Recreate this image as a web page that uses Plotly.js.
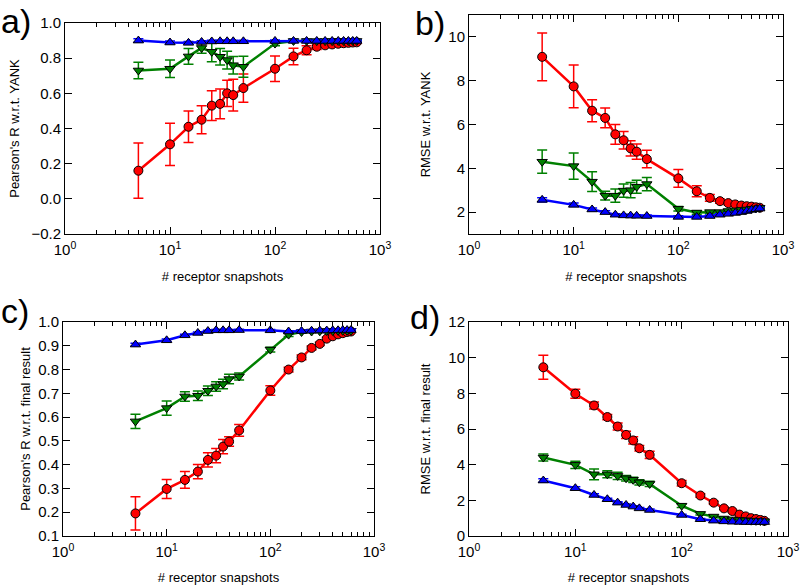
<!DOCTYPE html>
<html>
<head>
<meta charset="utf-8">
<script src="https://cdn.plot.ly/plotly-3.0.1.min.js"></script>
<style>
  body { margin: 0; background: #fff; }
  #fig { width: 800px; height: 585px; }
</style>
</head>
<body>
<div id="fig"></div>
<script>
// number of receptor snapshots (shared x values)
var snapshots = [5, 10, 15, 20, 25, 30, 35, 40, 50, 100, 150, 200, 250, 300, 350, 400, 450, 500, 550, 600];

// a) Pearson's R w.r.t. YANK
var aRed = [0.16, 0.31, 0.41, 0.45, 0.53, 0.54, 0.60, 0.59, 0.63, 0.74, 0.81, 0.845, 0.865, 0.873, 0.878, 0.882, 0.885, 0.887, 0.889, 0.89];
var aRedErr = [0.157, 0.12, 0.09, 0.08, 0.085, 0.085, 0.075, 0.09, 0.08, 0.073, 0.047, 0.025, 0.015, 0.012, 0.01, 0.01, 0.008, 0.008, 0.007, 0.007];
var aGreen = [0.73, 0.74, 0.81, 0.858, 0.836, 0.808, 0.789, 0.76, 0.751, 0.883, 0.898, 0.898, 0.897, 0.897, 0.897, 0.898, 0.898, 0.898, 0.898, 0.898];
var aGreenErr = [0.047, 0.05, 0.045, 0.03, 0.057, 0.047, 0.05, 0.05, 0.06, 0.012, 0.008, 0.006, 0.005, 0.005, 0.005, 0.004, 0.004, 0.004, 0.004, 0.004];
var aBlue = [0.9, 0.889, 0.887, 0.892, 0.895, 0.896, 0.896, 0.896, 0.896, 0.898, 0.898, 0.898, 0.898, 0.898, 0.898, 0.898, 0.898, 0.898, 0.898, 0.898];
var aBlueErr = [0.01, 0.008, 0.008, 0.007, 0.007, 0.006, 0.006, 0.006, 0.006, 0.005, 0.005, 0.004, 0.004, 0.004, 0.004, 0.004, 0.004, 0.004, 0.004, 0.004];

// b) RMSE w.r.t. YANK
var bRed = [9.09, 7.74, 6.63, 6.30, 5.55, 5.28, 4.91, 4.76, 4.42, 3.54, 2.95, 2.65, 2.50, 2.41, 2.35, 2.30, 2.27, 2.25, 2.22, 2.20];
var bRedErr = [1.09, 0.98, 0.5, 0.45, 0.45, 0.4, 0.35, 0.35, 0.4, 0.4, 0.25, 0.15, 0.1, 0.08, 0.07, 0.06, 0.05, 0.05, 0.05, 0.05];
var bGreen = [4.3, 4.1, 3.39, 2.75, 2.75, 2.98, 3.0, 3.16, 3.28, 2.15, 1.98, 2.0, 2.0, 2.05, 2.08, 2.1, 2.12, 2.15, 2.17, 2.2];
var bGreenErr = [0.53, 0.6, 0.45, 0.2, 0.3, 0.3, 0.35, 0.3, 0.3, 0.1, 0.08, 0.06, 0.05, 0.05, 0.05, 0.05, 0.05, 0.05, 0.05, 0.05];
var bBlue = [2.56, 2.33, 2.12, 2.0, 1.88, 1.85, 1.84, 1.83, 1.82, 1.78, 1.78, 1.82, 1.88, 1.92, 1.96, 2.0, 2.05, 2.1, 2.13, 2.16];
var bBlueErr = [0.1, 0.08, 0.07, 0.06, 0.05, 0.05, 0.05, 0.05, 0.05, 0.05, 0.05, 0.05, 0.05, 0.05, 0.05, 0.05, 0.05, 0.05, 0.05, 0.05];

// c) Pearson's R w.r.t. final result
var cRed = [0.195, 0.298, 0.336, 0.371, 0.42, 0.438, 0.476, 0.497, 0.544, 0.712, 0.80, 0.851, 0.891, 0.908, 0.93, 0.94, 0.948, 0.953, 0.958, 0.96];
var cRedErr = [0.07, 0.04, 0.035, 0.03, 0.03, 0.03, 0.03, 0.02, 0.025, 0.02, 0.01, 0.01, 0.008, 0.007, 0.006, 0.005, 0.005, 0.004, 0.004, 0.004];
var cGreen = [0.582, 0.638, 0.687, 0.69, 0.711, 0.729, 0.739, 0.76, 0.771, 0.884, 0.947, 0.958, 0.96, 0.961, 0.962, 0.962, 0.963, 0.963, 0.963, 0.963];
var cGreenErr = [0.03, 0.03, 0.02, 0.02, 0.02, 0.02, 0.02, 0.02, 0.015, 0.01, 0.008, 0.005, 0.004, 0.004, 0.004, 0.003, 0.003, 0.003, 0.003, 0.003];
var cBlue = [0.905, 0.923, 0.944, 0.954, 0.962, 0.965, 0.965, 0.965, 0.966, 0.965, 0.96, 0.962, 0.963, 0.964, 0.964, 0.965, 0.965, 0.966, 0.966, 0.966];
var cBlueErr = [0.006, 0.005, 0.004, 0.004, 0.003, 0.003, 0.003, 0.003, 0.003, 0.003, 0.003, 0.003, 0.003, 0.003, 0.003, 0.003, 0.003, 0.003, 0.003, 0.003];

// d) RMSE w.r.t. final result
var dRed = [9.46, 7.98, 7.32, 6.67, 6.14, 5.67, 5.36, 4.92, 4.55, 2.96, 2.27, 1.87, 1.55, 1.40, 1.2, 1.1, 1.0, 0.95, 0.9, 0.85];
var dRedErr = [0.67, 0.25, 0.2, 0.15, 0.2, 0.2, 0.2, 0.15, 0.2, 0.15, 0.1, 0.08, 0.06, 0.05, 0.05, 0.04, 0.04, 0.04, 0.03, 0.03];
var dGreen = [4.40, 3.99, 3.46, 3.46, 3.37, 3.24, 3.15, 3.01, 2.92, 1.70, 1.24, 1.09, 0.98, 0.93, 0.9, 0.88, 0.86, 0.85, 0.84, 0.83];
var dGreenErr = [0.2, 0.2, 0.3, 0.2, 0.2, 0.15, 0.15, 0.15, 0.15, 0.1, 0.06, 0.05, 0.04, 0.04, 0.04, 0.03, 0.03, 0.03, 0.03, 0.03];
var dBlue = [3.11, 2.68, 2.30, 2.06, 1.87, 1.74, 1.65, 1.55, 1.46, 1.18, 0.94, 0.86, 0.82, 0.80, 0.79, 0.78, 0.78, 0.78, 0.78, 0.78];
var dBlueErr = [0.1, 0.08, 0.07, 0.06, 0.05, 0.05, 0.05, 0.05, 0.05, 0.04, 0.04, 0.03, 0.03, 0.03, 0.03, 0.03, 0.03, 0.03, 0.03, 0.03];

var font = "Liberation Sans, Arial, sans-serif";

function series(y, err, color, symbol, xa, ya) {
  return {
    x: snapshots, y: y,
    xaxis: xa, yaxis: ya,
    type: "scatter", mode: "lines+markers",
    line: {color: color, width: 2.5},
    marker: {color: color, symbol: symbol, size: 9, line: {color: "black", width: 1}},
    error_y: {type: "data", array: err, color: color, thickness: 1.5, width: 5},
    showlegend: false,
    hoverinfo: "x+y"
  };
}

var data = [
  series(aRed, aRedErr, "#ff0000", "circle", "x", "y"),
  series(aGreen, aGreenErr, "#008000", "triangle-down", "x", "y"),
  series(aBlue, aBlueErr, "#0000ff", "triangle-up", "x", "y"),
  series(bRed, bRedErr, "#ff0000", "circle", "x2", "y2"),
  series(bGreen, bGreenErr, "#008000", "triangle-down", "x2", "y2"),
  series(bBlue, bBlueErr, "#0000ff", "triangle-up", "x2", "y2"),
  series(cRed, cRedErr, "#ff0000", "circle", "x3", "y3"),
  series(cGreen, cGreenErr, "#008000", "triangle-down", "x3", "y3"),
  series(cBlue, cBlueErr, "#0000ff", "triangle-up", "x3", "y3"),
  series(dRed, dRedErr, "#ff0000", "circle", "x4", "y4"),
  series(dGreen, dGreenErr, "#008000", "triangle-down", "x4", "y4"),
  series(dBlue, dBlueErr, "#0000ff", "triangle-up", "x4", "y4")
];

function xAxis(domain, anchor) {
  return {
    type: "log", range: [0, 3], domain: domain, anchor: anchor,
    tickmode: "array", tickvals: [1, 10, 100, 1000],
    ticktext: ["10<sup>0</sup>", "10<sup>1</sup>", "10<sup>2</sup>", "10<sup>3</sup>"],
    ticks: "inside", ticklen: 7, tickcolor: "black",
    ticklabelstandoff: 2,
    minor: {dtick: "D1", ticks: "inside", ticklen: 4, tickcolor: "black"},
    showline: true, linecolor: "black", linewidth: 1, mirror: "allticks",
    showgrid: false, zeroline: false,
    tickfont: {size: 15, color: "black"},
    title: {text: "# receptor snapshots", font: {size: 13, color: "black"}, standoff: 14},
    automargin: false
  };
}

function yAxis(domain, anchor, range, dtick, fmt, title, standoff) {
  return {
    range: range, domain: domain, anchor: anchor,
    dtick: dtick, tick0: 0, tickformat: fmt,
    ticks: "inside", ticklen: 7, tickcolor: "black",
    showline: true, linecolor: "black", linewidth: 1, mirror: "allticks",
    showgrid: false, zeroline: false,
    tickfont: {size: 15, color: "black"},
    title: {text: title, font: {size: 13, color: "black"}, standoff: standoff},
    automargin: false
  };
}

var layout = {
  width: 800, height: 585,
  margin: {l: 0, r: 0, t: 0, b: 0},
  paper_bgcolor: "white", plot_bgcolor: "white",
  font: {family: font, color: "black"},
  xaxis: xAxis([65 / 800, 380 / 800], "y"),
  yaxis: yAxis([1 - 234 / 585, 1 - 23 / 585], "x", [-0.2, 1.0], 0.2, ".1f", "Pearson's R w.r.t. YANK", 8),
  xaxis2: xAxis([469 / 800, 783 / 800], "y2"),
  yaxis2: yAxis([1 - 234 / 585, 1 - 15 / 585], "x2", [1, 11], 2, "d", "RMSE w.r.t. YANK", 14),
  xaxis3: xAxis([63 / 800, 374 / 800], "y3"),
  yaxis3: yAxis([1 - 536 / 585, 1 - 322 / 585], "x3", [0.1, 1.0], 0.1, ".1f", "Pearson's R w.r.t. final result", 4),
  xaxis4: xAxis([469 / 800, 788 / 800], "y4"),
  yaxis4: yAxis([1 - 536 / 585, 1 - 322 / 585], "x4", [0, 12], 2, "d", "RMSE w.r.t. final result", 14),
  annotations: [
    {text: "a)", x: 0, y: 1 - 1 / 585},
    {text: "b)", x: 414 / 800, y: 1 - 3 / 585},
    {text: "c)", x: 0, y: 1 - 291 / 585},
    {text: "d)", x: 409 / 800, y: 1 - 297 / 585}
  ].map(function (a) {
    return Object.assign({xref: "paper", yref: "paper", xanchor: "left", yanchor: "top",
      showarrow: false, borderpad: 0, font: {size: 34, color: "black"}}, a);
  })
};

Plotly.newPlot("fig", data, layout, {displayModeBar: false});
</script>
</body>
</html>
